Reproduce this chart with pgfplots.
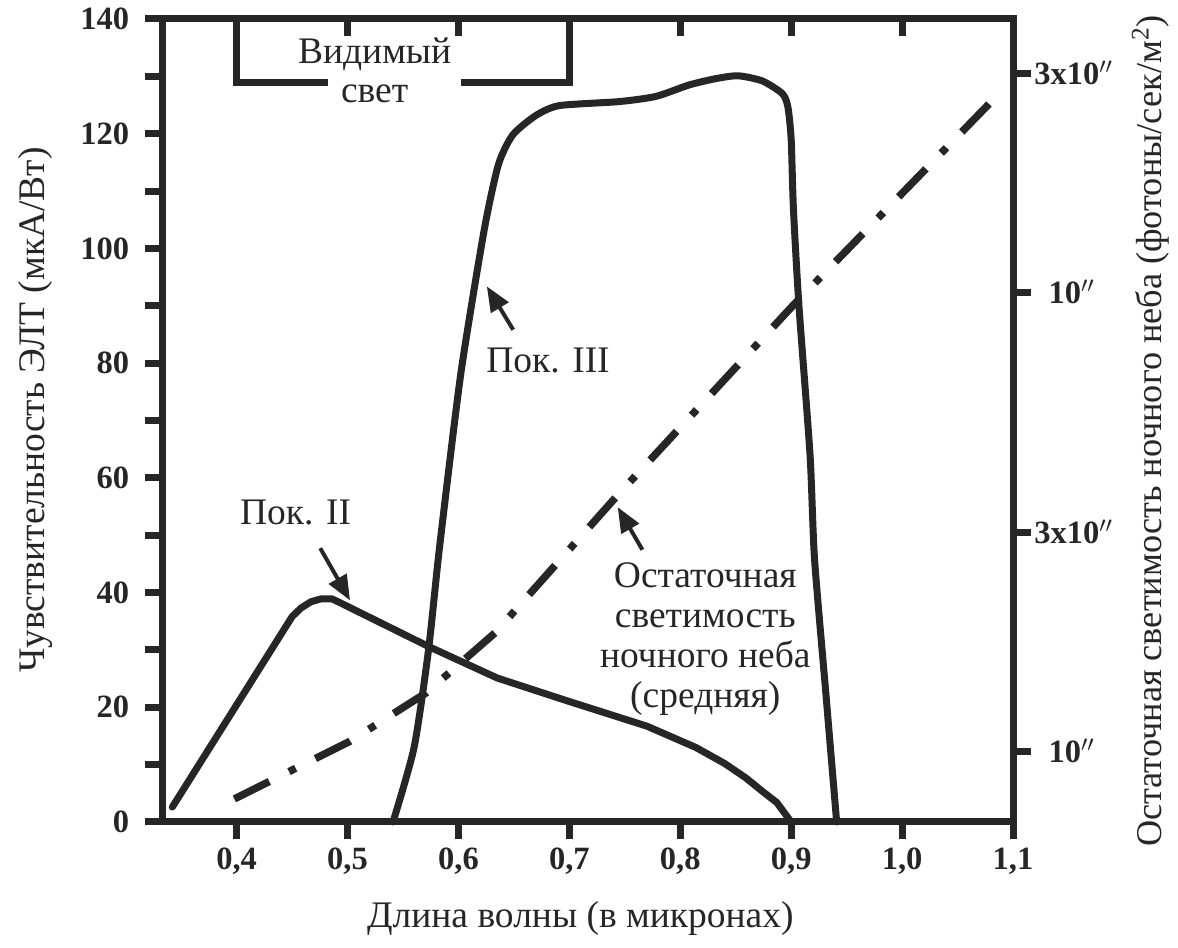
\documentclass[border=0pt]{standalone}
\usepackage{fontspec}
\setmainfont{Liberation Serif}
\usepackage{pgfplots}
\pgfplotsset{compat=1.18}
\usetikzlibrary{arrows.meta}
\definecolor{ink}{RGB}{38,38,38}

\begin{document}
\begin{tikzpicture}
\useasboundingbox (-65.2pt,-50.4pt) rectangle (406pt,328.8pt);
\tikzset{
  lab/.style={font=\fontsize{15}{16}\selectfont, text=ink},
  arr/.style={ink, line width=1.6pt, -{Triangle[length=10pt,width=8pt]}},
}
\pgfplotsset{
  common/.style={
    at={(0,0)}, anchor=south west, scale only axis,
    width=340pt, height=321.2pt,
    xmin=0.3336, xmax=1.1,
    axis line style={line width=2.8pt, ink},
    every outer x axis line/.append style={-},
    every outer y axis line/.append style={-},
    tick style={line width=2.8pt, ink},
    major tick length=7pt, minor tick length=7pt,
    clip=false,
    ticklabel style={font=\bfseries\fontsize{13}{14}\selectfont, text=ink},
  },
  curve/.style={ink, line width=2.8pt, line join=round, line cap=round, mark=none},
}
% main axis (left / bottom)
\begin{axis}[common,
  ymin=0, ymax=140,
  tick align=outside, xtick pos=left, ytick pos=left,
  xtick={0.4,0.5,0.6,0.7,0.8,0.9,1.0,1.1},
  xticklabels={{0,4},{0,5},{0,6},{0,7},{0,8},{0,9},{1,0},{1,1}},
  ytick={0,20,40,60,80,100,120,140},
  yticklabels={0,20,40,60,80,100,120,140},
  minor ytick={10,30,50,70,90,110,130},
  yticklabel style={xshift=-3pt},
  xlabel={Длина волны (в микронах)},
  ylabel={Чувствительность ЭЛТ (мкА/Вт)},
  xlabel style={at={(axis description cs:0.491,-0.120)}, anchor=center, font=\fontsize{15}{16}\selectfont, text=ink},
  ylabel style={at={(axis description cs:-0.150,0.513)}, anchor=center, font=\fontsize{15}{16}\selectfont, text=ink},
]
% Pok. II
\addplot[curve] coordinates {
  (0.342,2.6) (0.450,35.8) (0.458,37.3) (0.467,38.4) (0.476,38.9) (0.486,38.9) (0.4925,38.3)
  (0.573,30.6) (0.635,25.1) (0.700,21.0) (0.770,16.7) (0.814,13.0)
  (0.840,10.2) (0.859,7.7) (0.875,5.2) (0.887,3.4) (0.900,0)
};
% Pok. III
\addplot[curve, smooth, tension=0.4] coordinates {
  (0.541,0) (0.560,13) (0.573,30) (0.583,48) (0.602,78) (0.623,103)
  (0.636,114.6) (0.649,119.8) (0.670,123.2) (0.691,124.9) (0.745,125.6)
  (0.778,126.5) (0.808,128.5) (0.832,129.6) (0.852,130.1) (0.874,129.2)
  (0.892,127) (0.897,124.7) (0.900,119) (0.902,107) (0.907,90)
  (0.917,64) (0.921,46) (0.931,23) (0.941,0)
};
% visible light bracket
\addplot[ink, line width=2.8pt, line join=miter, mark=none] coordinates {(0.4,140) (0.4,129) (0.482,129)};
\addplot[ink, line width=2.8pt, line join=miter, mark=none] coordinates {(0.602,129) (0.7,129) (0.7,140)};

\node[lab] at (axis description cs:0.249,0.956) {Видимый};
\node[lab] at (axis description cs:0.249,0.907) {свет};
\node[lab] at (axis description cs:0.453,0.575) {Пок. III};
\node[lab] at (axis description cs:0.156,0.386) {Пок. II};
\node[lab, align=center] at (axis description cs:0.638,0.228)
  {Остаточная\\светимость\\ночного неба\\(средняя)};
\draw[arr] (axis description cs:0.412,0.613) -- (axis description cs:0.381,0.667);
\draw[arr] (axis description cs:0.185,0.341) -- (axis description cs:0.220,0.276);
\draw[arr] (axis description cs:0.564,0.339) -- (axis description cs:0.535,0.392);
\end{axis}

% right log axis (night sky luminosity)
\begin{axis}[common,
  ymode=log, ymin=7.01e9, ymax=3.94e11,
  axis x line=none, axis y line*=right,
  tick align=outside,
  ytick={1e10,3e10,1e11,3e11},
  yticklabels={{10$^{\prime\prime}$},{3x10$^{\prime\prime}$},{10$^{\prime\prime}$},{3x10$^{\prime\prime}$}},
  yminorticks=false,
  yticklabel style={anchor=west, text width=30pt, align=center, xshift=-2pt},
  ylabel={Остаточная светимость ночного неба (фотоны/сек/м\textsuperscript{2})},
  ylabel style={at={(axis description cs:1.162,0.487)}, anchor=center, rotate=0, font=\fontsize{14.5}{15}\selectfont, text=ink},
]
\addplot[ink, line width=3pt, mark=none, dash pattern=on 15.6pt off 8.8pt on 3pt off 8.8pt] coordinates {
  (0.398,7.87e9) (0.502,1.05e10) (0.571,1.34e10) (0.633,1.81e10)
  (0.743,3.60e10) (0.901,9.32e10) (1.081,2.61e11)
};
\end{axis}

% top inward ticks
\begin{axis}[common,
  ymin=0, ymax=1,
  axis y line=none, axis x line*=top,
  tick align=inside,
  xtick={0.5,0.6,0.7,0.8,0.9,1.0},
  xticklabels={},
]
\end{axis}
\end{tikzpicture}
\end{document}
